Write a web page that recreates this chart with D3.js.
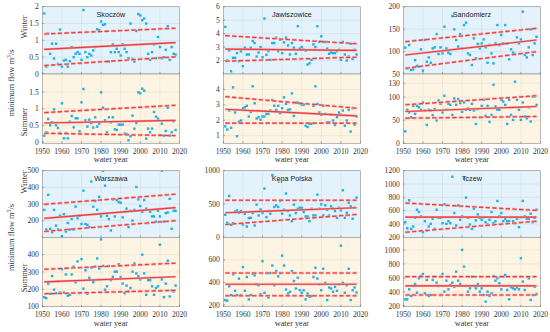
<!DOCTYPE html>
<html><head><meta charset="utf-8">
<script src="https://cdn.jsdelivr.net/npm/d3@7"></script>
<style>body{margin:0;background:#fff}svg{display:block}</style>
</head><body><div id="chart"></div>
<script>
// ---------------- DATA ----------------
const years = [1951,1952,1953,1954,1955,1956,1957,1958,1959,1960,1961,1962,1963,1964,1965,1966,1967,1968,1969,1970,
1971,1972,1973,1974,1975,1976,1977,1978,1979,1980,1981,1982,1983,1984,1985,1986,1987,1988,1989,1990,
1991,1992,1993,1994,1995,1996,1997,1998,1999,2000,2001,2002,2003,2004,2005,2006,2007,2008,2009,2010,
2011,2012,2013,2014,2015,2016,2017,2018];
const xTicks = [1950,1960,1970,1980,1990,2000,2010,2020];
const stations = ["Skoczów","Jawiszowice","Sandomierz","Warszawa","Kępa Polska","Tczew"];
const seasons = ["Winter","Summer"];

const skoczowWinter = [1.8,0.22,1.2,0.6,0.9,0.46,0.9,0.3,1.32,0.22,0.4,0.42,0.22,0.38,0.8,0.5,0.6,0.65,0.6,0.42,
1.9,0.65,0.5,0.6,0.55,0.7,0.8,1.33,1.3,1.56,1.46,1.48,0.37,0.37,0.65,0.88,0.65,0.75,0.65,0.55,
0.88,0.75,0.65,0.47,1.5,0.45,0.37,1.28,1.78,1.74,1.6,1.65,1.5,0.6,0.42,0.65,0.88,0.47,1.1,0.8,
0.47,0.5,0.72,1.42,0.42,0.8,0.6,0.58];
const skoczowSummer = [0.19,0.29,0.69,0.5,0.59,0.98,0.5,0.42,0.27,1.16,0.11,0.27,0.11,0.61,0.78,0.44,0.71,0.71,0.32,1.19,
1.59,0.65,0.46,0.67,0.57,0.43,0.74,0.46,0.55,1.49,1.03,0.65,0.29,0.74,0.59,0.74,0.38,0.36,0.52,0.52,
0.52,0.25,0.24,0.05,0.17,0.79,0.4,0.57,1.49,1.46,1.6,1.54,0.1,0.4,0.29,0.4,0.9,0.76,0.7,0.21,
0.55,0.19,0.33,1.03,0.19,0.29,0.62,0.36];
const jawiszowiceWinter = [4.5,2.0,2.75,1.2,2.2,2.2,2.55,1.95,2.68,1.58,2.95,2.45,2.45,2.95,3.45,3.3,2.3,2.6,3.0,2.25,
5.12,2.42,2.7,2.05,3.3,3.3,3.7,2.7,3.55,2.55,3.35,3.7,3.12,2.45,3.3,2.95,2.5,4.55,2.88,3.0,
2.8,2.75,1.7,1.8,2.05,3.2,3.0,4.55,3.38,3.8,3.38,3.38,2.88,2.5,2.6,2.55,2.55,2.7,2.8,2.05,
3.38,2.45,2.0,2.3,3.25,2.12,2.8,2.45];
const jawiszowiceSummer = [1.6,1.39,2.63,1.51,4.13,2.5,0.96,1.9,1.98,2.76,2.84,2.93,2.24,2.54,4.2,3.1,2.11,2.2,2.03,2.24,
2.24,2.41,2.41,2.63,3.31,2.93,2.67,2.93,2.46,2.78,3.48,3.06,2.67,2.71,3.74,2.28,3.14,3.14,3.1,3.01,
3.01,1.64,1.56,1.77,1.77,2.93,4.2,3.06,2.5,2.35,2.93,2.41,1.86,1.86,2.35,1.98,1.69,2.2,2.5,2.35,
2.63,1.64,1.98,2.67,1.26,2.78,1.71,2.24];
const sandomierzWinter = [108.7,62.7,114.6,59,60.4,81,68,66,105,57.5,125.8,77.5,87,75,107,109.4,139,94.6,109.4,96,
155.5,107,97.6,94.6,179,149.5,125.8,111,139,107,159,164.4,96,92.3,70,129.5,85,117,107,118.3,
127,109.4,75,114.6,96,73.8,118.3,159,114.6,137,118.3,159,118.3,82.7,105,97.6,94.6,131.7,118.3,127,
188.9,92.3,87,109.4,149.5,92.3,118.3,133];
const sandomierzSummer = [26,72.5,66.7,56.5,81,63.8,81,78,72.5,88.4,71,39.9,72.5,71,60.9,74,49.3,92.8,85.5,66.7,
102.9,72.5,85.5,83.3,61.6,97,83.3,95.7,87,68,88.4,72.5,75.4,72.5,85.5,71,42,74,56.5,81,
94.2,59.4,81,46.4,61.6,126.8,79.7,72.5,72.5,94.2,90.6,83.3,42,94.2,61.6,50.7,133.3,94.2,72.5,50.7,
88.4,58,54.3,78,47.1,101.4,101.4,83.3];
const warszawaWinter = [264.7,147,355,151,131,264.7,170.6,147,229,106,239,135,186,147,210,147,284,214,229,180,
380,180,174.5,161,435,284,317.6,264.7,343,225.5,500,410,229,210,141,327.5,225.5,323.5,311.8,308,
219.6,253,272.5,161,259,200,264.7,402,327.5,288,253,323.5,272.5,186,253,225.5,225.5,194,259,225.5,
500,194,245,249,331.4,151,259,259];
const warszawaSummer = [155,149,233,174.5,276.5,198,178,247,182,315.7,182,286,163,168.6,286,331,241,361,178,374.5,
204,310,174.5,266.7,325.5,241,331,378,319.6,488,335,198,217.6,335,253,272.5,302,302,345,270.6,
233,178,221.6,188,208,302,349,292,276.5,257,400,292,168.6,253,253,217.6,168.6,208,217.6,457,
257,155,233,364.7,159,194,188,221.6];
const kepaWinter = [338,217,621,187,212,389,404,369,394,192,354,162,288,293,364,177,490,328,419,364,
732,303,394,354,934,455,480,455,545,354,414,657,394,328,242,490,364,429,444,444,
379,313,313,242,429,328,328,641,429,495,328,480,414,328,465,429,394,293,444,404,
707,293,369,520,465,278,444,596];
const kepaSummer = [244,238,366,288,472,326,288,434,288,536,326,448,250,288,477,463,384,375,296,588,
308,483,267,483,550,375,501,454,483,638,550,337,302,317,501,413,346,442,331,308,
331,250,302,273,279,448,530,434,384,331,521,396,244,355,346,317,361,326,384,726,
396,308,375,521,244,331,355,311];
const tczewWinter = [427,336,756,326,362,493,614,579,513,276,442,301,362,402,478,326,614,493,493,412,
695,402,442,412,1109,564,377,680,463,513,1084,796,493,392,326,629,453,543,493,463,
503,427,392,463,579,412,442,745,513,564,442,478,442,442,503,442,412,478,352,503,
745,513,478,478,554,427,493,614];
const tczewSummer = [295,295,438,343,486,514,390,595,629,657,381,571,343,357,571,619,533,486,357,657,
405,562,438,500,533,476,690,562,514,1000,762,486,405,452,619,486,452,514,405,452,
357,262,405,343,381,629,562,595,524,438,619,643,429,295,467,452,438,467,438,881,
548,429,486,595,286,357,476,371];

// fitted lines: [value at 1951, value at 2018] for trend (solid), upper and lower (dashed)
const lineYears = [1951, 2018];
const skoczowWinterLines = [[0.73,0.93],[1.19,1.36],[0.25,0.51]];
const skoczowSummerLines = [[0.57,0.65],[0.88,1.1],[0.26,0.19]];
const jawiszowiceWinterLines = [[2.85,2.75],[3.85,3.25],[1.95,2.25]];
const jawiszowiceSummerLines = [[2.71,2.28],[3.53,2.78],[1.81,1.81]];
const sandomierzWinterLines = [[92.3,125.8],[122,151.7],[62.7,99.8]];
const sandomierzSummerLines = [[68.8,79.7],[83.3,102.9],[54.3,58]];
const warszawaWinterLines = [[214,278.5],[298,359],[135,200]];
const warszawaSummerLines = [[243,272.5],[315.7,351],[174.5,194]];
const kepaWinterLines = [[369,444],[556,556],[192,343]];
const kepaSummerLines = [[384,384],[483,483],[282,282]];
const tczewWinterLines = [[503,503],[715,604],[276,442]];
const tczewSummerLines = [[486,486],[619,619],[357,357]];

// y domains and tick labels
const skoczowDomains = [[0,2],[-0.04,2.04]];
const skoczowTicks = [[0,0.5,1,1.5,2],[0,0.5,1,1.5]];
const jawiszowiceDomains = [[1,6],[0.5,5]];
const jawiszowiceTicks = [[2,3,4,5,6],[1,2,3,4]];
const sandomierzDomains = [[50,200],[0,150]];
const sandomierzTicks = [[50,100,150,200],[0,50,100,130]];
const warszawaDomains = [[100,500],[100,500]];
const warszawaTicks = [[200,300,400,500],[100,200,300,400]];
const kepaDomains = [[0,1000],[185,800]];
const kepaTicks = [[0,500,1000],[200,400,600]];
const tczewDomains = [[200,1200],[190,1180]];
const tczewTicks = [[200,400,600,800,1000,1200],[200,400,600,800,1000]];

// ---------------- LAYOUT ----------------
const W = 550, H = 332;
const colX = [42.3, 223.3, 403.3];
const colW = 137.2;
const rowY = [[6.7, 74, 143.3],[170.7, 237.3, 306.7]];
const bgColors = ["#e4f2fb", "#fdf4e3"];
const pointColor = "#1cb2e8";
const red = "#ee3a3a";
const serif = "'Liberation Serif','Times New Roman',serif";
const sans = "'Liberation Sans',Arial,sans-serif";

const panels = [
  {name: stations[0], col:0, row:0, data:[skoczowWinter, skoczowSummer], lines:[skoczowWinterLines, skoczowSummerLines], domains: skoczowDomains, ticks: skoczowTicks},
  {name: stations[1], col:1, row:0, data:[jawiszowiceWinter, jawiszowiceSummer], lines:[jawiszowiceWinterLines, jawiszowiceSummerLines], domains: jawiszowiceDomains, ticks: jawiszowiceTicks},
  {name: stations[2], col:2, row:0, data:[sandomierzWinter, sandomierzSummer], lines:[sandomierzWinterLines, sandomierzSummerLines], domains: sandomierzDomains, ticks: sandomierzTicks},
  {name: stations[3], col:0, row:1, data:[warszawaWinter, warszawaSummer], lines:[warszawaWinterLines, warszawaSummerLines], domains: warszawaDomains, ticks: warszawaTicks},
  {name: stations[4], col:1, row:1, data:[kepaWinter, kepaSummer], lines:[kepaWinterLines, kepaSummerLines], domains: kepaDomains, ticks: kepaTicks},
  {name: stations[5], col:2, row:1, data:[tczewWinter, tczewSummer], lines:[tczewWinterLines, tczewSummerLines], domains: tczewDomains, ticks: tczewTicks}
];

const svg = d3.select("#chart").append("svg").attr("width", W).attr("height", H);
const defs = svg.append("defs");

panels.forEach((p, pi) => {
  const x0 = colX[p.col], rows = rowY[p.row];
  const x = d3.scaleLinear().domain([1950, 2020]).range([x0, x0 + colW]);
  for (let s = 0; s < 2; s++) {
    const top = rows[s], bot = rows[s + 1];
    const y = d3.scaleLinear().domain(p.domains[s]).range([bot, top]);
    const g = svg.append("g");
    const clipId = "clip" + pi + "_" + s;
    defs.append("clipPath").attr("id", clipId).append("rect")
      .attr("x", x0).attr("y", top).attr("width", colW).attr("height", bot - top);
    g.append("rect").attr("x", x0).attr("y", top).attr("width", colW).attr("height", bot - top)
      .attr("fill", bgColors[s]);
    // grid
    g.selectAll(".gx").data(xTicks.slice(1, -1)).join("line")
      .attr("x1", d => x(d)).attr("x2", d => x(d)).attr("y1", top).attr("y2", bot)
      .attr("stroke", "#000").attr("stroke-opacity", 0.1).attr("stroke-width", 0.5);
    g.selectAll(".gy").data(p.ticks[s]).join("line")
      .attr("x1", x0).attr("x2", x0 + colW).attr("y1", d => y(d)).attr("y2", d => y(d))
      .attr("stroke", "#000").attr("stroke-opacity", 0.1).attr("stroke-width", 0.5);
    const inner = g.append("g").attr("clip-path", "url(#" + clipId + ")");
    // points
    inner.selectAll("rect.pt").data(p.data[s]).join("rect").attr("class", "pt")
      .attr("x", (d, i) => x(years[i]) - 1.2).attr("y", d => y(d) - 1.2)
      .attr("width", 2.4).attr("height", 2.4).attr("fill", pointColor);
    // lines
    const L = p.lines[s];
    const lineGen = d3.line().x((d, i) => x(lineYears[i])).y(d => y(d));
    [1, 2].forEach(k => {
      inner.append("path").attr("d", lineGen(L[k])).attr("fill", "none")
        .attr("stroke", "#f5a3a3").attr("stroke-width", 2.4).attr("stroke-dasharray", "4.5,2.2");
      inner.append("path").attr("d", lineGen(L[k])).attr("fill", "none")
        .attr("stroke", red).attr("stroke-width", 1.1).attr("stroke-dasharray", "4.5,2.2");
    });
    inner.append("path").attr("d", lineGen(L[0])).attr("fill", "none")
      .attr("stroke", "#f5a3a3").attr("stroke-width", 2.2);
    inner.append("path").attr("d", lineGen(L[0])).attr("fill", "none")
      .attr("stroke", red).attr("stroke-width", 1.2);
    // frame
    g.append("rect").attr("x", x0).attr("y", top).attr("width", colW).attr("height", bot - top)
      .attr("fill", "none").attr("stroke", "#8c8c8c").attr("stroke-width", 0.6);
    // y tick marks & labels
    g.selectAll(".yt").data(p.ticks[s]).join("line")
      .attr("x1", x0).attr("x2", x0 + 1.8).attr("y1", d => y(d)).attr("y2", d => y(d))
      .attr("stroke", "#555").attr("stroke-width", 0.5);
    g.selectAll(".yl").data(p.ticks[s]).join("text")
      .attr("x", x0 - 3.5).attr("y", d => y(d) + 2.6).attr("text-anchor", "end")
      .attr("font-family", serif).attr("font-size", 7.6).attr("fill", "#333")
      .text(d => d);
    // x tick marks
    g.selectAll(".xt").data(xTicks).join("line")
      .attr("x1", d => x(d)).attr("x2", d => x(d)).attr("y1", bot).attr("y2", bot - 1.8)
      .attr("stroke", "#555").attr("stroke-width", 0.5);
    if (s === 0) {
      g.append("text").attr("x", x0 + colW / 2).attr("y", top + 10)
        .attr("text-anchor", "middle").attr("font-family", sans).attr("font-size", 7.2)
        .attr("fill", "#222").text(p.name);
    } else {
      g.selectAll(".xl").data(xTicks).join("text")
        .attr("x", d => x(d)).attr("y", bot + 10.3).attr("text-anchor", "middle")
        .attr("font-family", serif).attr("font-size", 7.6).attr("fill", "#333").text(d => d);
      g.append("text").attr("x", x0 + colW / 2).attr("y", bot + 18.8)
        .attr("text-anchor", "middle").attr("font-family", serif).attr("font-size", 8.2)
        .attr("fill", "#333").text("water year");
    }
  }
});

// row labels (left column)
const seasonLabelY = [[27, 122], [182, 278]];
const yTitleY = [83, 237.5];
[0, 1].forEach(r => {
  seasons.forEach((sn, s) => {
    svg.append("text").attr("transform", `translate(27,${seasonLabelY[r][s]}) rotate(-90)`)
      .attr("text-anchor", "middle").attr("font-family", serif).attr("font-size", 8.4)
      .attr("fill", "#333").text(sn);
  });
  const t = svg.append("text").attr("transform", `translate(14,${yTitleY[r]}) rotate(-90)`)
    .attr("text-anchor", "middle").attr("font-family", serif).attr("font-size", 8.4).attr("fill", "#333");
  t.append("tspan").text("minimum flow m");
  t.append("tspan").attr("dy", -3).attr("font-size", 5.6).text("3");
  t.append("tspan").attr("dy", 3).text("/s");
});
</script>
</body></html>
